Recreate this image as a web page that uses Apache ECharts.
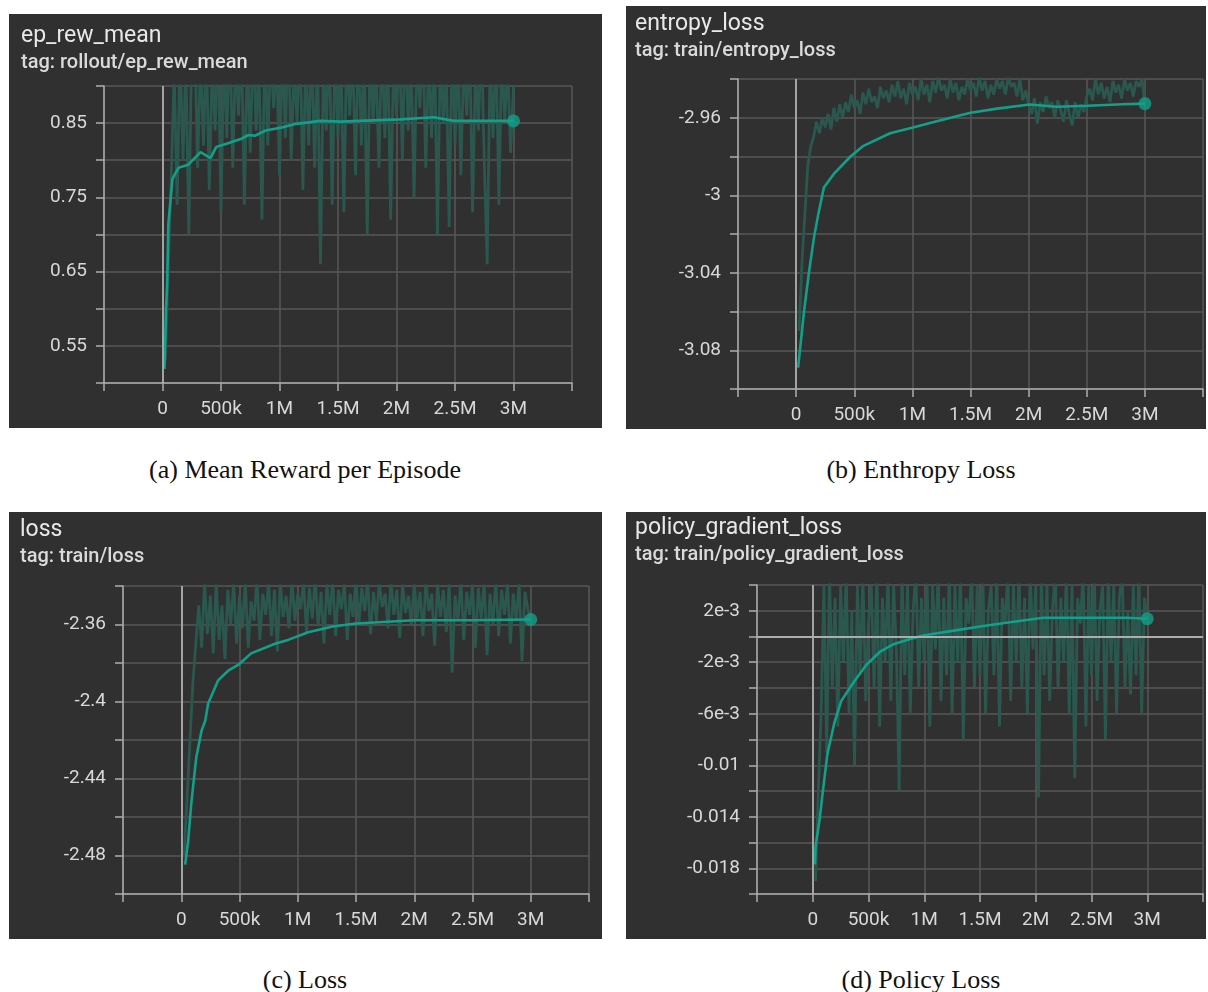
<!DOCTYPE html>
<html>
<head>
<meta charset="utf-8">
<script src="https://cdn.jsdelivr.net/npm/echarts@6/dist/echarts.min.js"></script>
<style>
  html, body { margin: 0; padding: 0; background: #fff; }
  body { width: 1208px; height: 992px; position: relative; overflow: hidden; }
  .panel { position: absolute; background: #303030; overflow: hidden; }
  .cap { position: absolute; width: 600px; text-align: center; font-family: "Liberation Serif", "Times New Roman", serif;
         font-size: 26px; line-height: 30px; color: #111; }
</style>
</head>
<body>
<div class="panel" id="pa" style="left:9px;top:14px;width:593px;height:414px"></div>
<div class="panel" id="pb" style="left:626px;top:6px;width:580px;height:423px"></div>
<div class="panel" id="pc" style="left:9px;top:512px;width:593px;height:427px"></div>
<div class="panel" id="pd" style="left:626px;top:512px;width:580px;height:427px"></div>
<div class="cap" style="left:5px;top:455px">(a) Mean Reward per Episode</div>
<div class="cap" style="left:621px;top:455px">(b) Enthropy Loss</div>
<div class="cap" style="left:5px;top:965px">(c) Loss</div>
<div class="cap" style="left:621px;top:965px">(d) Policy Loss</div>
<script>
// x axis (timesteps)
var xTickVals = [0, 500000, 1000000, 1500000, 2000000, 2500000, 3000000];
var xTickText = ['0', '500k', '1M', '1.5M', '2M', '2.5M', '3M'];
var rawStep = 25000; // raw points logged every 25k steps, starting at 25k

// (a) ep_rew_mean
var rawA = [0.53, 0.66, 0.78, 0.92, 0.74, 0.95, 0.80, 0.93, 0.70, 0.96,
  0.97, 0.79, 0.94, 0.82, 0.95, 0.76, 0.93, 0.84, 0.97, 0.73,
  0.95, 0.83, 0.98, 0.79, 0.94, 0.86, 0.96, 0.74, 0.95, 0.81,
  0.97, 0.84, 0.93, 0.72, 0.96, 0.82, 0.95, 0.87, 0.94, 0.78,
  0.96, 0.83, 0.98, 0.80, 0.93, 0.85, 0.97, 0.76, 0.94, 0.82,
  0.96, 0.79, 0.95, 0.66, 0.93, 0.84, 0.97, 0.74, 0.95, 0.83,
  0.94, 0.73, 0.96, 0.86, 0.95, 0.78, 0.97, 0.82, 0.94, 0.70,
  0.96, 0.85, 0.93, 0.79, 0.97, 0.83, 0.95, 0.72, 0.94, 0.86,
  0.96, 0.80, 0.98, 0.84, 0.93, 0.75, 0.95, 0.87, 0.97, 0.79,
  0.94, 0.83, 0.96, 0.70, 0.95, 0.85, 0.93, 0.71, 0.97, 0.82,
  0.95, 0.78, 0.94, 0.86, 0.96, 0.73, 0.93, 0.84, 0.97, 0.80,
  0.66, 0.94, 0.83, 0.96, 0.74, 0.95, 0.85, 0.93, 0.81, 0.90];
var smoothA = [[0.017, 0.519], [0.03, 0.60], [0.04, 0.635], [0.05, 0.714], [0.085, 0.775], [0.137, 0.79],
  [0.22, 0.794], [0.325, 0.811], [0.41, 0.803], [0.46, 0.818], [0.56, 0.823], [0.675, 0.829],
  [0.735, 0.834], [0.79, 0.833], [0.88, 0.84], [1.02, 0.844], [1.14, 0.849], [1.25, 0.851],
  [1.35, 0.853], [1.52, 0.852], [1.86, 0.854], [2.03, 0.855], [2.32, 0.858], [2.49, 0.853],
  [2.74, 0.853], [3.0, 0.853]];
var yTicksA = [0.55, 0.65, 0.75, 0.85];
var yTextA = ['0.55', '0.65', '0.75', '0.85'];

// (b) entropy_loss
var rawB = [-3.07, -3.035, -3.01, -2.985, -2.975, -2.97, -2.962, -2.968, -2.96, -2.965,
  -2.958, -2.966, -2.955, -2.962, -2.953, -2.96, -2.952, -2.957, -2.948, -2.955,
  -2.951, -2.958, -2.947, -2.953, -2.945, -2.952, -2.949, -2.955, -2.944, -2.95,
  -2.946, -2.952, -2.943, -2.949, -2.941, -2.95, -2.945, -2.953, -2.942, -2.948,
  -2.944, -2.951, -2.94, -2.948, -2.943, -2.952, -2.941, -2.947, -2.939, -2.946,
  -2.943, -2.95, -2.94, -2.947, -2.942, -2.951, -2.944, -2.948, -2.94, -2.946,
  -2.942, -2.949, -2.939, -2.946, -2.941, -2.95, -2.943, -2.948, -2.94, -2.945,
  -2.941, -2.948, -2.939, -2.944, -2.942, -2.949, -2.94, -2.951, -2.946, -2.953,
  -2.958, -2.95, -2.963, -2.952, -2.957, -2.949, -2.955, -2.952, -2.96, -2.951,
  -2.956, -2.962, -2.951, -2.958, -2.964, -2.952, -2.96, -2.953, -2.957, -2.949,
  -2.945, -2.951, -2.94, -2.948, -2.942, -2.95, -2.944, -2.952, -2.941, -2.947,
  -2.943, -2.95, -2.94, -2.946, -2.942, -2.949, -2.941, -2.944, -2.94, -2.953];
var smoothB = [[0.017, -3.089], [0.068, -3.06], [0.11, -3.04], [0.153, -3.022], [0.19, -3.01],
  [0.239, -2.996], [0.324, -2.989], [0.468, -2.98], [0.579, -2.9745], [0.809, -2.968],
  [1.03, -2.9647], [1.16, -2.9626], [1.5, -2.9574], [1.73, -2.9553], [2.01, -2.9532],
  [2.24, -2.9543], [2.51, -2.9538], [2.81, -2.953], [3.0, -2.9527]];
var yTicksB = [-2.96, -3.0, -3.04, -3.08];
var yTextB = ['-2.96', '-3', '-3.04', '-3.08'];

// (c) loss
var rawC = [-2.48, -2.45, -2.42, -2.39, -2.37, -2.35, -2.372, -2.338, -2.365, -2.345,
  -2.375, -2.338, -2.368, -2.35, -2.378, -2.342, -2.36, -2.338, -2.37, -2.345,
  -2.362, -2.338, -2.372, -2.348, -2.358, -2.336, -2.368, -2.344, -2.355, -2.338,
  -2.366, -2.342, -2.374, -2.338, -2.356, -2.345, -2.362, -2.337, -2.358, -2.344,
  -2.352, -2.338, -2.364, -2.341, -2.357, -2.336, -2.361, -2.343, -2.37, -2.339,
  -2.355, -2.337, -2.366, -2.342, -2.352, -2.338, -2.368, -2.344, -2.356, -2.336,
  -2.36, -2.341, -2.353, -2.337, -2.365, -2.343, -2.358, -2.338, -2.351, -2.344,
  -2.362, -2.337, -2.355, -2.342, -2.367, -2.339, -2.354, -2.345, -2.36, -2.338,
  -2.357, -2.343, -2.366, -2.337, -2.353, -2.344, -2.371, -2.339, -2.356, -2.342,
  -2.364, -2.338, -2.385, -2.345, -2.358, -2.337, -2.368, -2.343, -2.355, -2.339,
  -2.372, -2.341, -2.357, -2.338, -2.376, -2.344, -2.36, -2.337, -2.366, -2.342,
  -2.355, -2.339, -2.37, -2.344, -2.358, -2.338, -2.379, -2.343, -2.352, -2.358];
var smoothC = [[0.034, -2.4847], [0.06, -2.472], [0.086, -2.453], [0.129, -2.429], [0.175, -2.415],
  [0.206, -2.41], [0.231, -2.401], [0.317, -2.389], [0.403, -2.384], [0.488, -2.381],
  [0.6, -2.375], [0.805, -2.37], [0.917, -2.368], [1.09, -2.364], [1.3, -2.361],
  [1.5, -2.3595], [2.0, -2.3578], [2.5, -2.3578], [3.0, -2.3574]];
var yTicksC = [-2.36, -2.4, -2.44, -2.48];
var yTextC = ['-2.36', '-2.4', '-2.44', '-2.48'];

// (d) policy_gradient_loss
var rawD = [-0.019, -0.012, -0.006, 0.004, -0.009, 0.005, -0.004, 0.003, -0.007, 0.004,
  -0.002, 0.005, -0.006, 0.002, -0.010, 0.004, -0.003, 0.005, -0.005, 0.001,
  0.004, -0.004, 0.005, -0.007, 0.003, -0.002, 0.005, -0.005, 0.004, -0.001,
  -0.012, 0.005, -0.003, 0.004, -0.006, 0.002, 0.005, -0.004, 0.003, -0.002,
  0.005, -0.007, 0.004, -0.001, 0.005, -0.005, 0.003, -0.003, 0.005, -0.006,
  0.004, -0.002, 0.005, -0.008, 0.003, 0.001, 0.005, -0.004, 0.004, -0.003,
  0.005, -0.006, 0.002, 0.004, -0.003, 0.005, -0.007, 0.003, 0.001, 0.005,
  -0.005, 0.004, -0.002, 0.005, -0.004, 0.003, -0.006, 0.005, -0.001, 0.004,
  -0.0125, 0.005, -0.003, 0.004, -0.005, 0.002, 0.005, -0.004, 0.003, -0.002,
  0.005, -0.006, 0.004, -0.011, 0.003, 0.001, 0.005, -0.007, 0.004, -0.003,
  0.005, -0.005, 0.002, 0.004, -0.008, 0.005, -0.002, 0.004, -0.006, 0.003,
  0.005, -0.004, 0.002, -0.0045, 0.004, -0.003, 0.005, -0.006, 0.003, 0.0015];
var smoothD = [[0.02, -0.0177], [0.025, -0.0163], [0.062, -0.0142], [0.088, -0.0122], [0.132, -0.0091],
  [0.194, -0.0067], [0.256, -0.005], [0.371, -0.0035], [0.485, -0.00215], [0.609, -0.00115],
  [0.724, -0.0006], [0.874, -0.0002], [0.989, 0.00008], [1.21, 0.00038], [1.5, 0.00077],
  [1.8, 0.00115], [2.07, 0.00146], [2.29, 0.00146], [2.53, 0.00146], [2.82, 0.00146], [3.0, 0.00138]];
var yTicksD = [0.002, -0.002, -0.006, -0.01, -0.014, -0.018];
var yTextD = ['2e-3', '-2e-3', '-6e-3', '-0.01', '-0.014', '-0.018'];

var TEAL = '#13a08a';
var RAW = '#2a574e';
var GRIDC = '#575757';
var AXISC = '#adadad';
var LABELC = '#d8d8d8';

function pickLabel(vals, texts) {
  return function (v) {
    for (var i = 0; i < vals.length; i++) {
      if (Math.abs(vals[i] - v) < 1e-9) return texts[i];
    }
    return '';
  };
}

var makeChart = function (id, cfg) {
  var chart = echarts.init(document.getElementById(id));
  var raw = cfg.raw.map(function (v, i) { return [(i + 1) * rawStep, v]; });
  var smooth = cfg.smooth.map(function (p) { return [p[0] * 1e6, p[1]]; });
  var zeroLines = [{ xAxis: 0 }];
  if (cfg.zeroY) zeroLines.push({ yAxis: 0 });
  chart.setOption({
    animation: false,
    textStyle: { fontFamily: 'Roboto' },
    title: [
      { text: cfg.title, left: cfg.tx, top: cfg.ty,
        textStyle: { color: '#e8e8e8', fontSize: 23, fontWeight: 'normal', fontFamily: 'Roboto' } },
      { text: cfg.tag, left: cfg.tx, top: cfg.ty + 28,
        textStyle: { color: '#dadada', fontSize: 20, fontWeight: 500, fontFamily: 'Roboto' } }
    ],
    grid: { left: cfg.grid[0], top: cfg.grid[1], width: cfg.grid[2], height: cfg.grid[3] },
    xAxis: {
      type: 'value', min: -500000, max: 3500000, interval: 500000,
      axisLine: { onZero: false, lineStyle: { color: AXISC, width: 1.5 } },
      axisTick: { show: true, length: 8, lineStyle: { color: AXISC, width: 1.5 } },
      axisLabel: { color: LABELC, fontSize: 19, margin: 17, showMinLabel: true, showMaxLabel: true,
        formatter: pickLabel(xTickVals, xTickText) },
      splitLine: { show: true, lineStyle: { color: GRIDC, width: 1.5 } }
    },
    yAxis: {
      type: 'value', min: cfg.ymin, max: cfg.ymax, interval: cfg.yint,
      axisLine: { show: true, onZero: false, lineStyle: { color: AXISC, width: 1.5 } },
      axisTick: { show: true, length: 8, lineStyle: { color: AXISC, width: 1.5 } },
      axisLabel: { color: LABELC, fontSize: 19, margin: 17, showMinLabel: true, showMaxLabel: true,
        formatter: pickLabel(cfg.yTicks, cfg.yText) },
      splitLine: { show: true, lineStyle: { color: GRIDC, width: 1.5 } }
    },
    series: [
      {
        type: 'line', data: raw, showSymbol: false, clip: true, z: 2,
        lineStyle: { color: RAW, width: 2.8, join: 'bevel' },
        markLine: {
          silent: true, symbol: 'none', label: { show: false },
          lineStyle: { color: AXISC, type: 'solid', width: 1.8 },
          data: zeroLines
        }
      },
      {
        type: 'line', data: smooth, showSymbol: false, clip: true, z: 3,
        lineStyle: { color: TEAL, width: 2.6 }
      },
      {
        type: 'scatter', data: [smooth[smooth.length - 1]], symbolSize: 13, z: 4,
        itemStyle: { color: TEAL }
      }
    ]
  });
};

makeChart('pa', { title: 'ep_rew_mean', tag: 'tag: rollout/ep_rew_mean', tx: 7, ty: 6,
  grid: [95, 72, 468, 297], ymin: 0.5, ymax: 0.9, yint: 0.05,
  yTicks: yTicksA, yText: yTextA, raw: rawA, smooth: smoothA });
makeChart('pb', { title: 'entropy_loss', tag: 'tag: train/entropy_loss', tx: 4, ty: 2,
  grid: [112, 73, 470, 310], ymin: -3.1, ymax: -2.94, yint: 0.02,
  yTicks: yTicksB, yText: yTextB, raw: rawB, smooth: smoothB });
makeChart('pc', { title: 'loss', tag: 'tag: train/loss', tx: 6, ty: 2,
  grid: [114, 74, 466, 308], ymin: -2.5, ymax: -2.34, yint: 0.02,
  yTicks: yTicksC, yText: yTextC, raw: rawC, smooth: smoothC });
makeChart('pd', { title: 'policy_gradient_loss', tag: 'tag: train/policy_gradient_loss', tx: 4, ty: 0,
  grid: [131, 73, 453, 309], ymin: -0.02, ymax: 0.004, yint: 0.002, zeroY: true,
  yTicks: yTicksD, yText: yTextD, raw: rawD, smooth: smoothD });
</script>
</body>
</html>
